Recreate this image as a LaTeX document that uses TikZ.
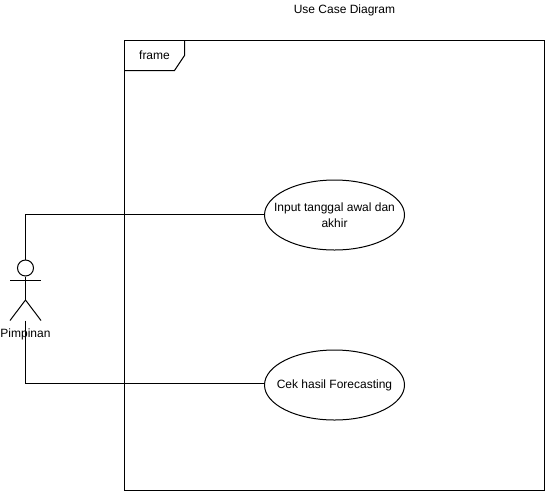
\documentclass[tikz,border=0pt]{standalone}
\usepackage{fontspec}
\setmainfont{Liberation Sans}
\usetikzlibrary{shapes.geometric}
\tikzset{
  ln/.style={draw=black,line width=1pt},
  usecase/.style={ln,ellipse,minimum width=140pt,minimum height=70pt,inner sep=0pt},
  uctext/.style={inner sep=0pt,align=center,font=\fontsize{12}{16}\selectfont,text=black},
  lbl/.style={inner sep=0pt,font=\fontsize{12}{14}\selectfont,text=black},
  head/.style={ln,circle,minimum size=16pt,inner sep=0pt}
}
\begin{document}
\begin{tikzpicture}[x=1pt,y=-1pt]
\useasboundingbox (0,0) rectangle (545,491);
% frame
\node[lbl] (title) at (344.5,10) {Use Case Diagram};
\draw[ln] (124.5,40.5) rectangle (544.5,490.5);
\draw[ln] (184.5,40.5) -- (184.5,55.5) -- (174.5,70.5) -- (124.5,70.5);
\node[lbl] (frm) at (154.5,55) {frame};
% actor
\node[head] (hd) at (25.5,268) {};
\coordinate (hip) at (25.5,300);
\coordinate (foot) at (25.5,320.5);
\coordinate (armL) at (10,280.5);
\coordinate (armR) at (41,280.5);
\coordinate (legL) at (10,320.5);
\coordinate (legR) at (41,320.5);
\draw[ln] (hd.south) -- (hip);
\draw[ln] (armL) -- (armR);
\draw[ln] (legL) -- (hip) -- (legR);
\node[lbl] (act) at (25.5,334) {Pimpinan};
% use cases
\node[usecase] (uc1) at (334.5,215) {};
\node[uctext] (uc1t) at (uc1.center) {Input tanggal awal dan\\akhir};
\node[usecase] (uc2) at (334.5,385) {};
\node[uctext] (uc2t) at (uc2.center) {Cek hasil Forecasting};
% connectors
\draw[ln] (hd.north) |- (uc1.west |- 0,214.5);
\draw[ln] (foot) |- (uc2.west |- 0,383);
\end{tikzpicture}
\end{document}
